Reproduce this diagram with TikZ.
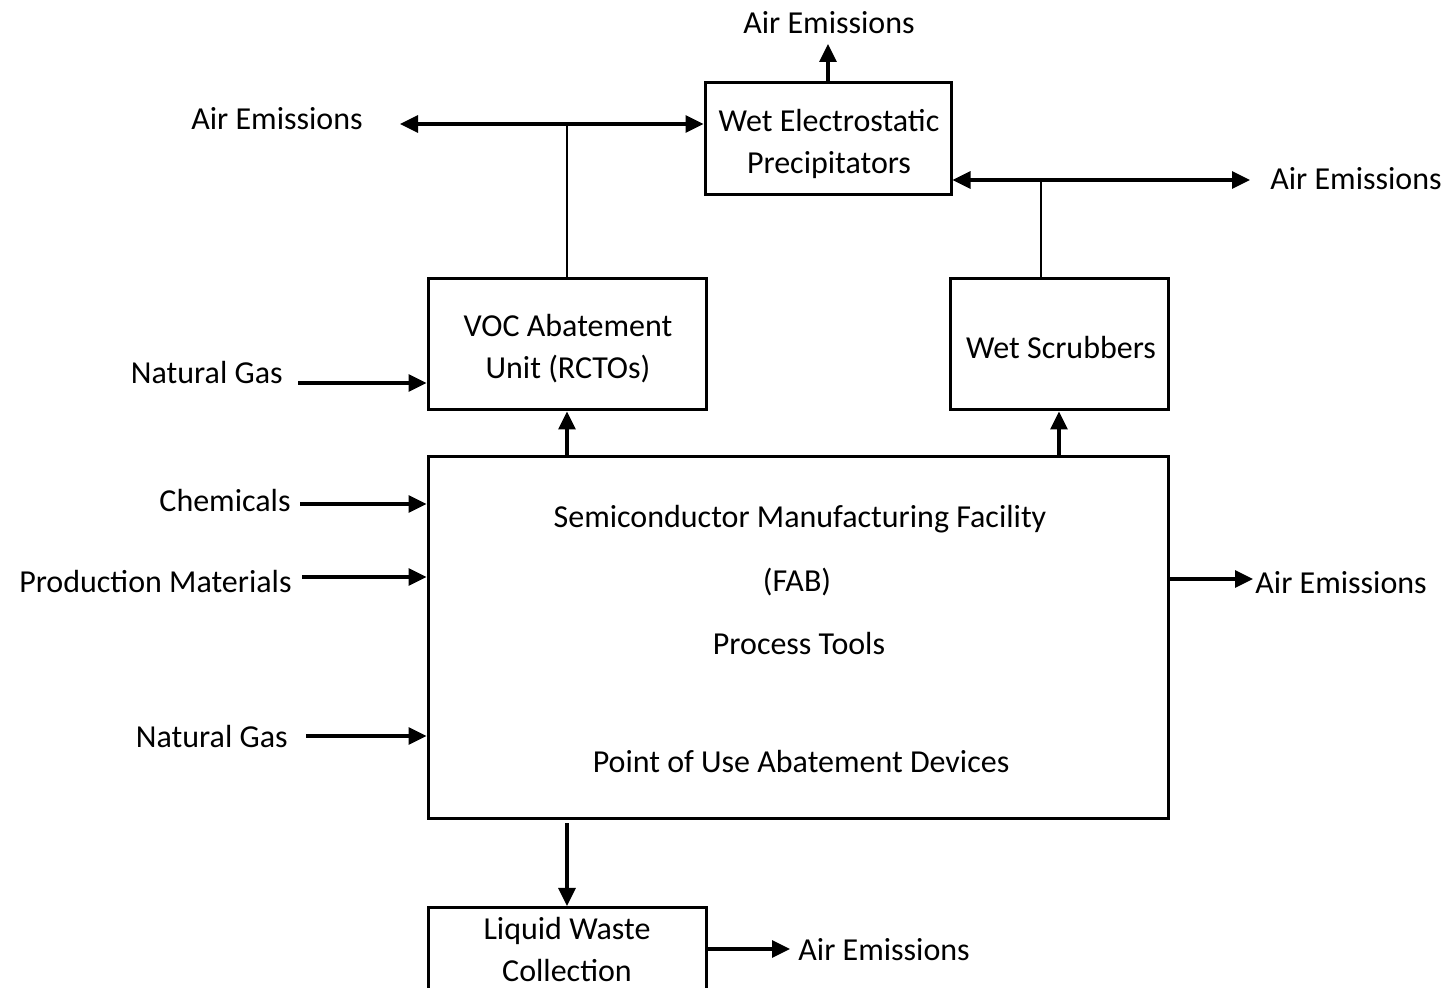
\documentclass[tikz,border=0pt]{standalone}
\usepackage{fontspec}
\setmainfont{Carlito}
\usetikzlibrary{arrows.meta}
\begin{document}
\begin{tikzpicture}[x=0.5pt,y=-0.5pt,
  box/.style={draw,line width=1.5pt,inner sep=0pt},
  lbl/.style={font=\fontsize{16}{21}\selectfont,align=center,inner sep=0pt},
  arr/.style={line width=1.6pt,-{Triangle[length=9pt,width=8.5pt]}},
  darr/.style={line width=1.6pt,{Triangle[length=9pt,width=8.5pt]}-{Triangle[length=9pt,width=8.5pt]}},
  ln/.style={line width=1.2pt}]
\useasboundingbox (0,0) rectangle (1448,988);
\clip (0,0) rectangle (1448,988);
% boxes
\node[box,minimum width=123pt,minimum height=56pt] (wep) at (828,139) {};
\node[box,minimum width=139pt,minimum height=65.5pt] (voc) at (567,344.5) {};
\node[box,minimum width=109pt,minimum height=65.5pt] (ws) at (1059,344.5) {};
\node[box,minimum width=370pt,minimum height=181pt] (fab) at (798,638) {};
\node[box,minimum width=139pt,minimum height=50pt,anchor=north] (lw) at (567,906) {};
% texts inside
\node[lbl] (wept) at (829,144) {Wet Electrostatic\\Precipitators};
\node[lbl] (voct) at (568,349) {VOC Abatement\\Unit (RCTOs)};
\node[lbl] (wst) at (1061,348) {Wet Scrubbers};
\node[lbl] (fab1) at (800,519) {Semiconductor Manufacturing Facility};
\node[lbl] (fab2) at (797,582) {(FAB)};
\node[lbl] (fab3) at (799,644) {Process Tools};
\node[lbl] (fab4) at (801,762) {Point of Use Abatement Devices};
\node[lbl] (lwt) at (567,950) {Liquid Waste\\Collection};
% outside labels
\node[lbl] (aeTop) at (829,23) {Air Emissions};
\node[lbl] (aeL) at (277,119) {Air Emissions};
\node[lbl] (aeR) at (1356,179) {Air Emissions};
\node[lbl,anchor=west] (aeFab) at (1255,583) {Air Emissions};
\node[lbl,anchor=west] (aeLw) at (798,950) {Air Emissions};
\node[lbl,anchor=east] (ng1) at (283,373) {Natural Gas};
\node[lbl,anchor=east] (chem) at (291,501) {Chemicals};
\node[lbl,anchor=east] (prod) at (292,582) {Production Materials};
\node[lbl,anchor=east] (ng2) at (288,737) {Natural Gas};
% coordinates
\coordinate (topEnd) at (828,44);
\coordinate (j1) at (567,124);
\coordinate (l1) at (400,124);
\coordinate (j2) at (1041,180);
\coordinate (r2) at (1250,180);
\coordinate (in1) at (298,383);
\coordinate (in2) at (300,504);
\coordinate (in3) at (302,577);
\coordinate (in4) at (306,736);
\coordinate (o1) at (1253,579);
\coordinate (o2) at (790,949);
% connectors
\draw[arr] (wep.north) -- (topEnd);
\draw[ln] (voc.north) -- (j1);
\draw[darr] (l1) -- (wep.west |- j1);
\draw[ln] (ws.north -| j2) -- (j2);
\draw[darr] (wep.east |- j2) -- (r2);
\draw[arr] (voc.south |- fab.north) -- (voc.south);
\draw[arr] (ws.south |- fab.north) -- (ws.south);
\draw[arr] (in1) -- (voc.west |- in1);
\draw[arr] (in2) -- (fab.west |- in2);
\draw[arr] (in3) -- (fab.west |- in3);
\draw[arr] (in4) -- (fab.west |- in4);
\draw[arr] (fab.east |- o1) -- (o1);
\draw[arr] ([yshift=-1.5pt]lw.north |- fab.south) -- (lw.north);
\draw[arr] (lw.east |- o2) -- (o2);
\end{tikzpicture}
\end{document}
